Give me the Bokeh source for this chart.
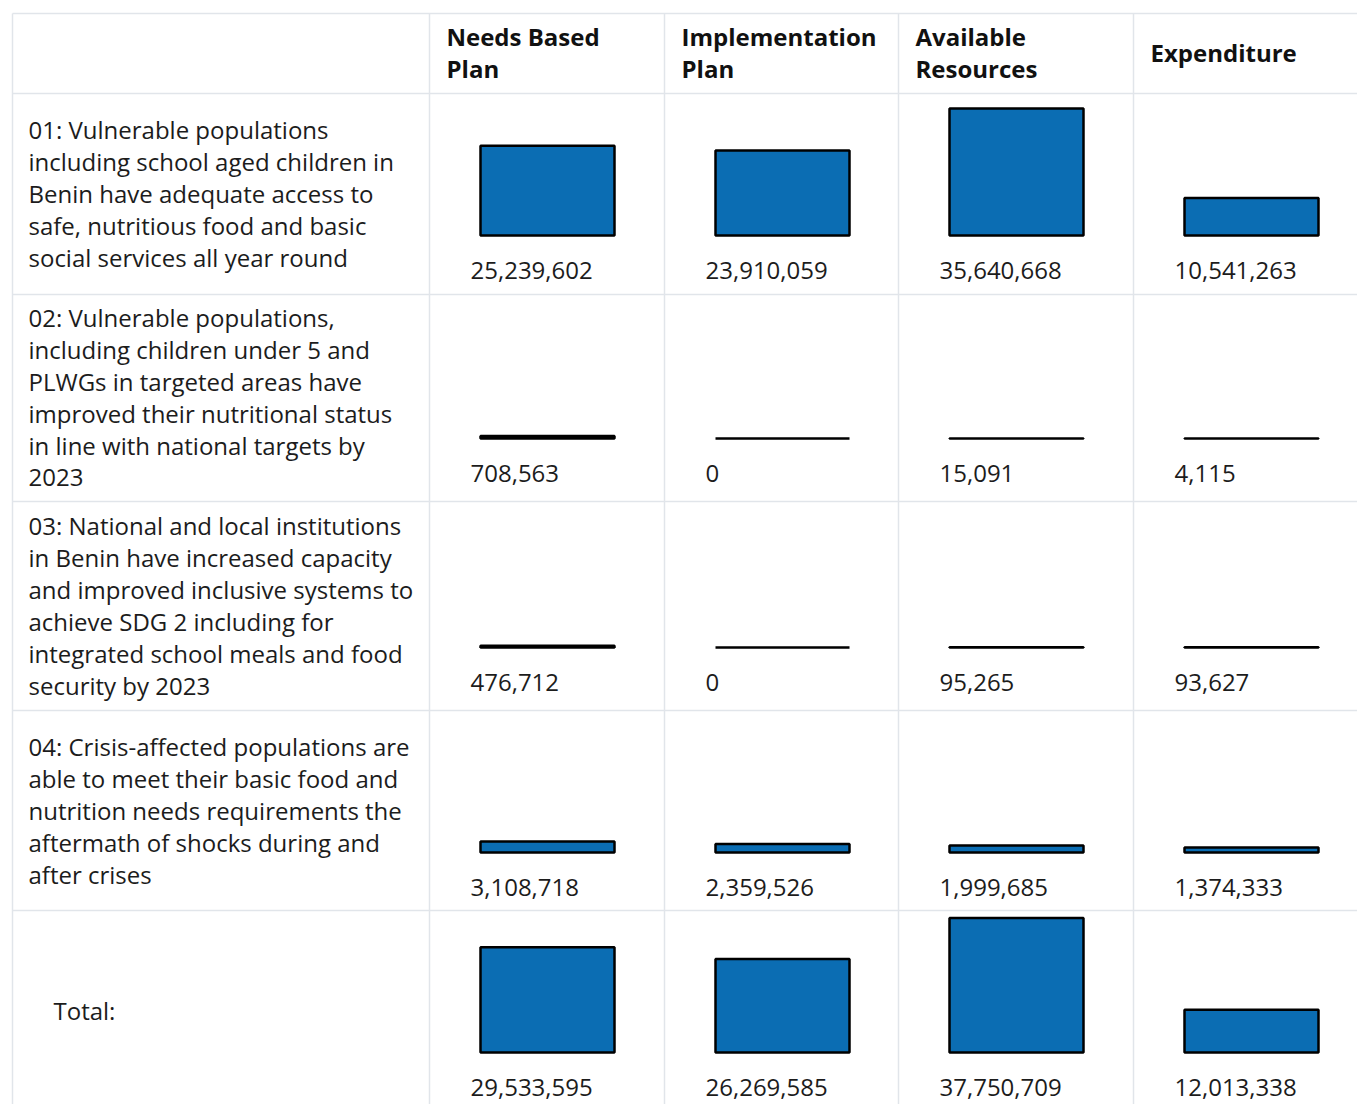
from bokeh.plotting import figure
from bokeh.models import Range1d, ColumnDataSource
from bokeh.core.properties import value
from bokeh.embed import file_html
from bokeh.resources import INLINE

# ---------------- data ----------------
column_titles = [["Needs Based", "Plan"], ["Implementation", "Plan"],
                 ["Available", "Resources"], ["Expenditure"]]
row_labels = [
    ["01: Vulnerable populations", "including school aged children in",
     "Benin have adequate access to", "safe, nutritious food and basic",
     "social services all year round"],
    ["02: Vulnerable populations,", "including children under 5 and",
     "PLWGs in targeted areas have", "improved their nutritional status",
     "in line with national targets by", "2023"],
    ["03: National and local institutions", "in Benin have increased capacity",
     "and improved inclusive systems to", "achieve SDG 2 including for",
     "integrated school meals and food", "security by 2023"],
    ["04: Crisis-affected populations are", "able to meet their basic food and",
     "nutrition needs requirements the", "aftermath of shocks during and",
     "after crises"],
    ["Total:"],
]
needs_based = [25239602, 708563, 476712, 3108718, 29533595]
implementation = [23910059, 0, 0, 2359526, 26269585]
available = [35640668, 15091, 95265, 1999685, 37750709]
expenditure = [10541263, 4115, 93627, 1374333, 12013338]
series = [needs_based, implementation, available, expenditure]

# ---------------- layout (px) ----------------
W, H = 1357, 1104
col_edges = [12, 429, 664, 898, 1133]
row_edges = [13, 93, 294, 501, 710, 910]
baselines = [235, 438, 647, 852, 1052]
label_first = [129, 317, 525, 746, 1010]
label_x = [28, 28, 28, 28, 53]
LINE_H = 32
PX_PER_UNIT = 3.56e-6
FONT = "Open Sans"
FS = "24px"
BAR_COLOR = "#0b6db3"
GRID_COLOR = "#e1e5ea"
TEXT_COLOR = "#1c1c1c"

p = figure(width=W, height=H, output_backend="svg", toolbar_location=None,
           x_range=Range1d(0, W), y_range=Range1d(H, 0),
           x_axis_location=None, y_axis_location=None, min_border=0,
           background_fill_color="white", border_fill_color="white")
p.outline_line_color = None
p.grid.visible = False

# grid lines
x0s, y0s, x1s, y1s = [], [], [], []
for y in row_edges:
    x0s.append(col_edges[0]); x1s.append(W + 10)
    y0s.append(y); y1s.append(y)
for x in col_edges:
    x0s.append(x); x1s.append(x)
    y0s.append(row_edges[0]); y1s.append(H + 10)
p.segment(x0=x0s, y0=y0s, x1=x1s, y1=y1s, line_color=GRID_COLOR, line_width=1.5)

# header text
hx, hy, ht = [], [], []
for ci, title in enumerate(column_titles):
    left = col_edges[ci + 1] + 17
    if len(title) == 1:
        hx.append(left); hy.append(52); ht.append(title[0])
    else:
        for li, t in enumerate(title):
            hx.append(left); hy.append(36 + li * 32); ht.append(t)
p.text(x=hx, y=hy, text=ht, text_font=value(FONT), text_font_style="bold",
       text_font_size=FS, text_baseline="middle", text_align="left",
       text_color="#111111")

# row labels
lx, ly, lt = [], [], []
for ri, lines in enumerate(row_labels):
    for li, t in enumerate(lines):
        lx.append(label_x[ri])
        ly.append(label_first[ri] + li * LINE_H)
        lt.append(t)
p.text(x=lx, y=ly, text=lt, text_font=value(FONT), text_font_size=FS,
       text_baseline="middle", text_align="left", text_color=TEXT_COLOR)

# bars + value labels
left, right, top, bottom = [], [], [], []
vx, vy, vt = [], [], []
for ci, vals in enumerate(series):
    cl = col_edges[ci + 1]
    for ri, v in enumerate(vals):
        b = baselines[ri]
        left.append(cl + 51); right.append(cl + 185)
        bottom.append(b); top.append(b - v * PX_PER_UNIT)
        vx.append(cl + 41); vy.append(b + 35); vt.append(f"{v:,}")

src = ColumnDataSource(dict(left=left, right=right, top=top, bottom=bottom))
p.quad(left="left", right="right", top="top", bottom="bottom", source=src,
       fill_color=BAR_COLOR, line_color="black", line_width=2.5)
p.text(x=vx, y=vy, text=vt, text_font=value(FONT), text_font_size=FS,
       text_baseline="middle", text_align="left", text_color=TEXT_COLOR)

open("out.html", "w").write(file_html(p, INLINE))
